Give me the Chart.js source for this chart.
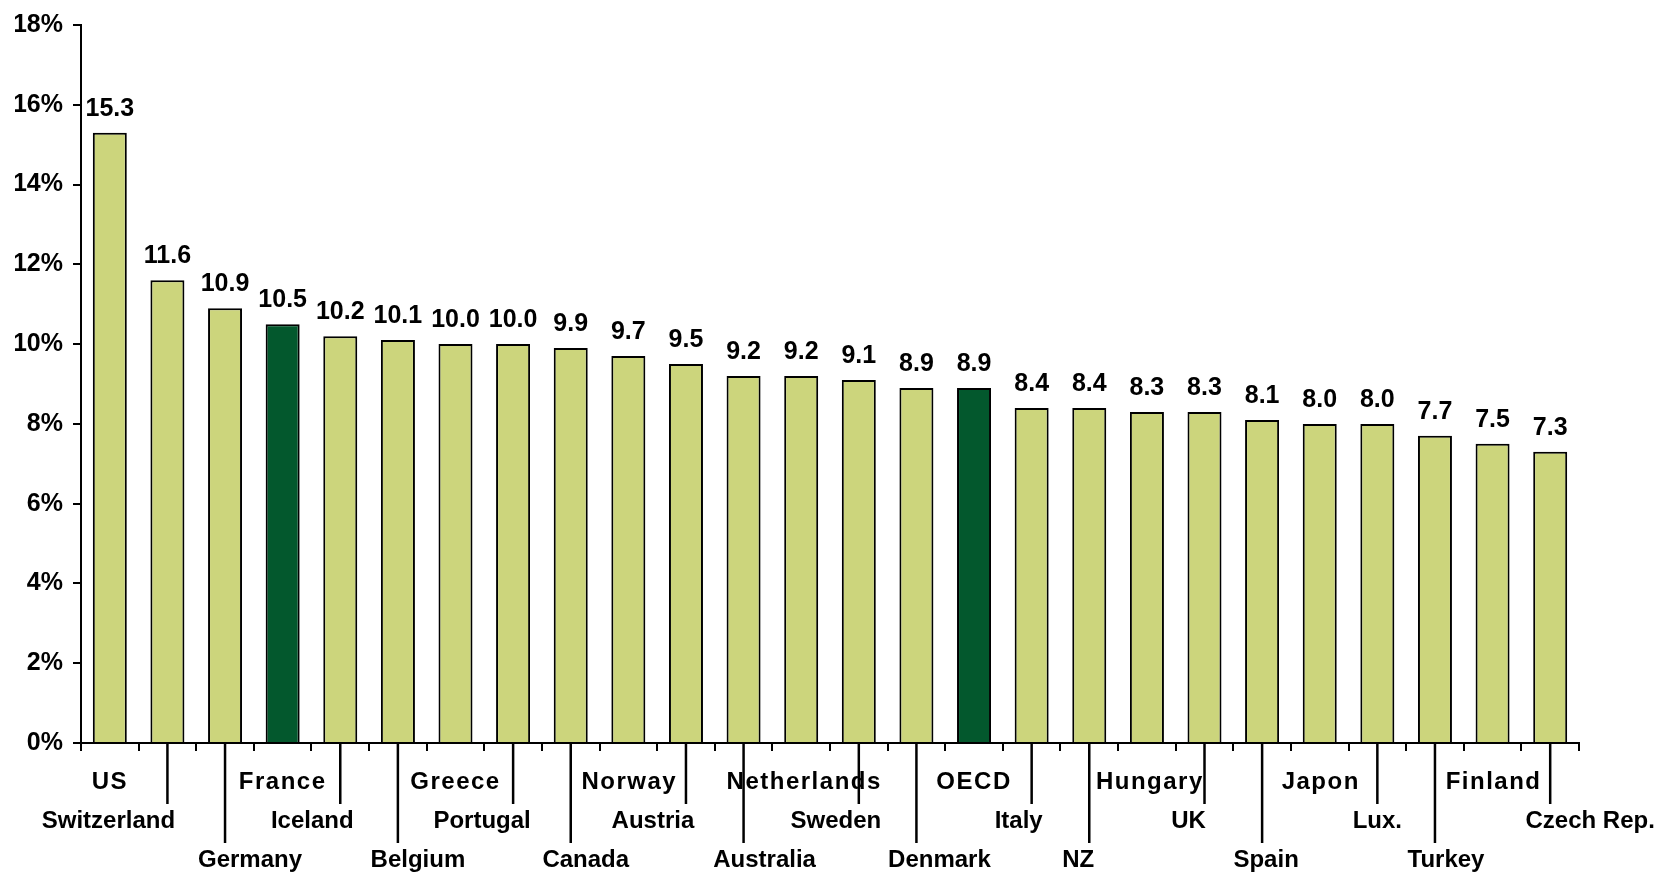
<!DOCTYPE html>
<html>
<head>
<meta charset="utf-8">
<script src="https://cdn.jsdelivr.net/npm/chart.js@4/dist/chart.umd.min.js"></script>
<style>
  html, body { margin: 0; padding: 0; background: #fff; }
</style>
</head>
<body>
<canvas id="chart" width="1668" height="874"></canvas>
<script>
// Share of each country, in percent, sorted high to low
const countries = [
  "US", "Switzerland", "Germany", "France", "Iceland", "Belgium", "Greece",
  "Portugal", "Canada", "Norway", "Austria", "Australia", "Netherlands",
  "Sweden", "Denmark", "OECD", "Italy", "NZ", "Hungary", "UK", "Spain",
  "Japon", "Lux.", "Turkey", "Finland", "Czech Rep.",
];
const shares = [
  15.3, 11.6, 10.9, 10.5, 10.2, 10.1, 10.0, 10.0, 9.9, 9.7, 9.5, 9.2, 9.2,
  9.1, 8.9, 8.9, 8.4, 8.4, 8.3, 8.3, 8.1, 8.0, 8.0, 7.7, 7.5, 7.3,
];
const highlighted = ["France", "OECD"];
const yMax = 18;
const yStep = 2;

const FONT = "'Liberation Sans', Arial, Helvetica, sans-serif";
const LIGHT = "#ccd57c";
const DARK = "#03582d";

// labels are staggered over three rows; small horizontal nudges per label
const labelNudge = [
  0, -59, 25, 0, -28, 20, 0, -31, 15, 1, -33, 21, 3,
  -23, 23, 0, -13, -11, 3, -16, 4, 1, 0, 11, 1, 40,
];
const rowBaseline = [46, 85, 124];
const leaderEnd = [0, 61, 100];

const staggeredLabels = {
  id: "staggeredLabels",
  afterDatasetsDraw(chart) {
    const { ctx, chartArea, scales: { x } } = chart;
    const meta = chart.getDatasetMeta(0);
    ctx.save();
    ctx.fillStyle = "#000";
    ctx.strokeStyle = "#000";
    ctx.lineWidth = 2.5;
    ctx.textAlign = "center";
    ctx.textBaseline = "alphabetic";

    // value above each bar
    ctx.font = `bold 25px ${FONT}`;
    meta.data.forEach((bar, i) => {
      ctx.fillText(shares[i].toFixed(1), bar.x, bar.y - 17);
    });

    // category names with leader lines
    ctx.font = `bold 24px ${FONT}`;
    countries.forEach((name, i) => {
      const row = i % 3;
      const cx = x.getPixelForValue(i);
      if (row > 0) {
        ctx.beginPath();
        ctx.moveTo(cx, chartArea.bottom);
        ctx.lineTo(cx, chartArea.bottom + leaderEnd[row]);
        ctx.stroke();
      }
      ctx.letterSpacing = row === 0 ? "1.5px" : "0px";
      ctx.fillText(name, cx + labelNudge[i], chartArea.bottom + rowBaseline[row]);
    });
    ctx.restore();
  },
};

new Chart(document.getElementById("chart"), {
  type: "bar",
  data: {
    labels: countries,
    datasets: [{
      data: shares,
      backgroundColor: countries.map((c) => (highlighted.includes(c) ? DARK : LIGHT)),
      borderColor: "#000",
      borderWidth: 2,
      barPercentage: 0.59,
      categoryPercentage: 1,
    }],
  },
  options: {
    responsive: false,
    animation: false,
    devicePixelRatio: 1,
    layout: { padding: { top: 20, left: 15, right: 89, bottom: 123 } },
    plugins: { legend: { display: false }, tooltip: { enabled: false } },
    scales: {
      x: {
        ticks: { display: false },
        grid: { drawOnChartArea: false, drawTicks: true, tickLength: 8, color: "#000", lineWidth: 2 },
        border: { color: "#000", width: 2 },
      },
      y: {
        min: 0,
        max: yMax,
        afterFit: (scale) => { scale.width = 66; },
        ticks: {
          stepSize: yStep,
          padding: 10,
          color: "#000",
          font: { family: FONT, size: 25, weight: "bold" },
          callback: (v) => `${v}%`,
        },
        grid: { drawOnChartArea: false, drawTicks: true, tickLength: 8, color: "#000", lineWidth: 2 },
        border: { color: "#000", width: 2 },
      },
    },
  },
  plugins: [staggeredLabels],
});
</script>
</body>
</html>
